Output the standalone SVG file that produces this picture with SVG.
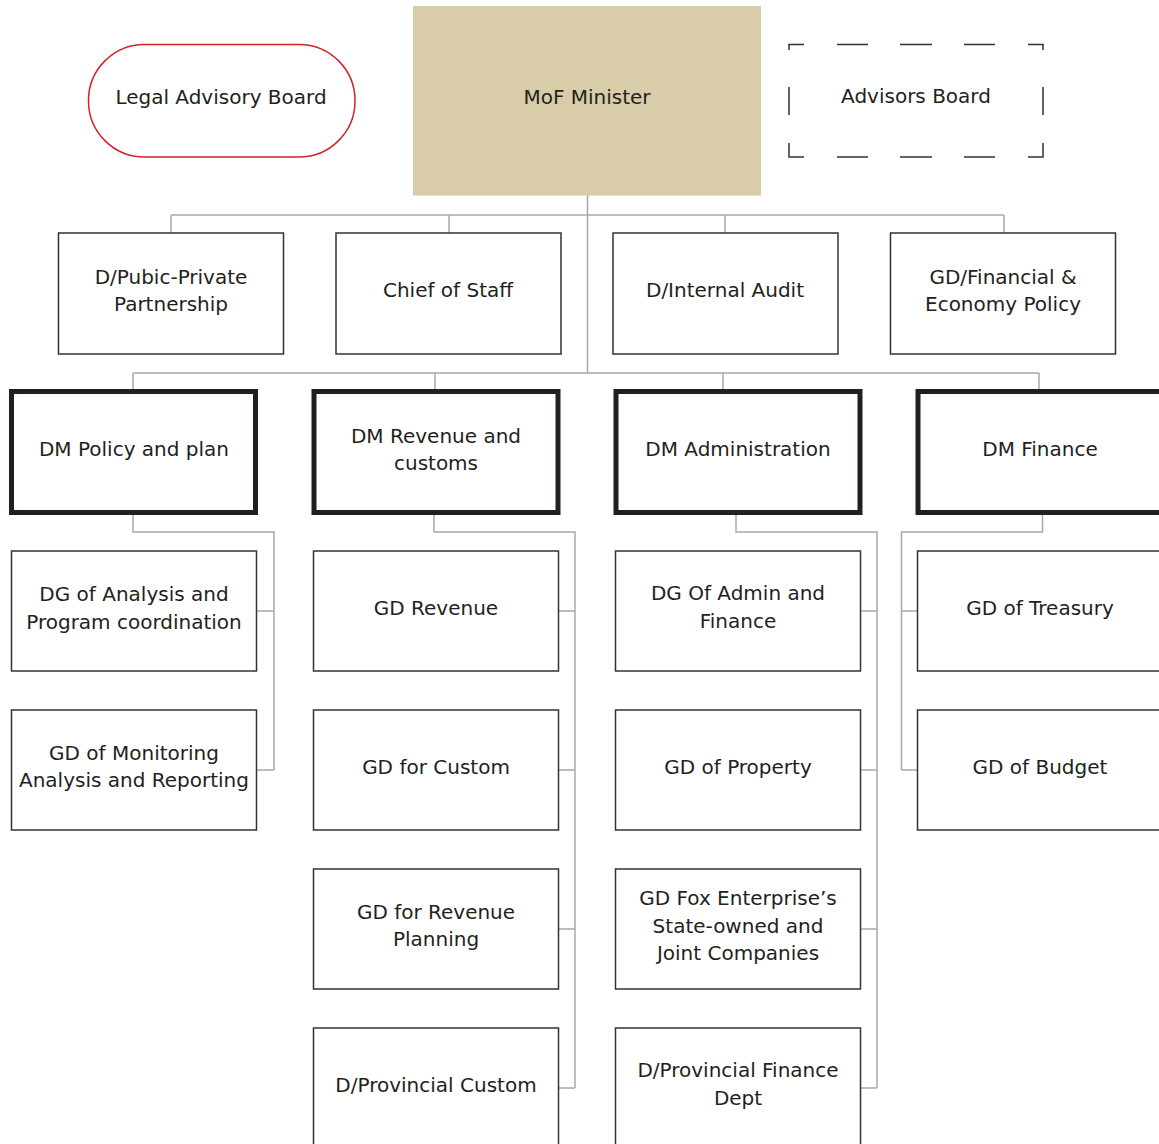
<svg xmlns="http://www.w3.org/2000/svg" width="1159" height="1144" viewBox="0 0 1159 1144">
  <style>
    .bg { fill: #ffffff; }
    .box { fill: #ffffff; stroke: #333333; stroke-width: 1.5; }
    .dm { fill: #ffffff; stroke: #231f20; stroke-width: 5; }
    .minister { fill: #d9cca9; }
    .legal { fill: #ffffff; stroke: #d2232a; stroke-width: 1.5; }
    .dash { fill: none; stroke: #333333; stroke-width: 1.5; }
    .link { fill: none; stroke: #a7a9ac; stroke-width: 1.5; }
    text { font-family: "DejaVu Sans", "Liberation Sans", sans-serif; font-size: 20px; fill: #231f20; text-anchor: middle; }
  </style>
  <rect class="bg" x="0" y="0" width="1159" height="1144"/>

  <!-- connectors -->
  <g id="connectors">
    <!-- minister to first tier -->
    <path class="link" d="M587.5 195 V373 M171 215 H1004 M171 215 V233 M449 215 V233 M725 215 V233 M1004 215 V233"/>
    <!-- minister to deputy ministers -->
    <path class="link" d="M133 373 H1039 M133 373 V391 M435 373 V391 M723 373 V391 M1039 373 V391"/>
    <!-- DM Policy and plan -->
    <path class="link" d="M133 513 V532 H274 V770 M256.5 611 H274 M256.5 770 H274"/>
    <!-- DM Revenue and customs -->
    <path class="link" d="M434 513 V532 H575 V1088 M558.5 611 H575 M558.5 770 H575 M558.5 929 H575 M558.5 1088 H575"/>
    <!-- DM Administration -->
    <path class="link" d="M736 513 V532 H877 V1088 M860.5 611 H877 M860.5 770 H877 M860.5 929 H877 M860.5 1088 H877"/>
    <!-- DM Finance -->
    <path class="link" d="M1042.5 513 V532 H901.5 V770 M901.5 611 H917.5 M901.5 770 H917.5"/>
  </g>

  <!-- top row -->
  <g id="legal-advisory-board">
    <rect class="legal" x="88.5" y="44.5" width="266.5" height="112.5" rx="56" ry="56"/>
    <text x="221" y="104">Legal Advisory Board</text>
  </g>
  <g id="mof-minister">
    <rect class="minister" x="413" y="6" width="348" height="189.5"/>
    <text x="587" y="104">MoF Minister</text>
  </g>
  <g id="advisors-board">
    <path class="dash" d="M789 50 V44.5 H804 M837 44.5 H868 M900 44.5 H932 M964 44.5 H995 M1028 44.5 H1043 V50
                          M789 87 V115 M1043 87 V115
                          M789 143 V157 H804 M837 157 H868 M900 157 H932 M964 157 H995 M1028 157 H1043 V143"/>
    <text x="916" y="103">Advisors Board</text>
  </g>

  <!-- first tier -->
  <g id="d-public-private-partnership">
    <rect class="box" x="58.5" y="233" width="225" height="121"/>
    <text x="171" y="284">D/Pubic-Private</text>
    <text x="171" y="311">Partnership</text>
  </g>
  <g id="chief-of-staff">
    <rect class="box" x="336" y="233" width="225" height="121"/>
    <text x="448" y="297">Chief of Staff</text>
  </g>
  <g id="d-internal-audit">
    <rect class="box" x="613" y="233" width="225" height="121"/>
    <text x="725" y="297">D/Internal Audit</text>
  </g>
  <g id="gd-financial-economy-policy">
    <rect class="box" x="890.5" y="233" width="225" height="121"/>
    <text x="1003" y="284">GD/Financial &amp;</text>
    <text x="1003" y="311">Economy Policy</text>
  </g>

  <!-- deputy ministers -->
  <g id="dm-policy-and-plan">
    <rect class="dm" x="11.5" y="391.5" width="244" height="121"/>
    <text x="134" y="456">DM Policy and plan</text>
  </g>
  <g id="dm-revenue-and-customs">
    <rect class="dm" x="314" y="391.5" width="244" height="121"/>
    <text x="436" y="443">DM Revenue and</text>
    <text x="436" y="470">customs</text>
  </g>
  <g id="dm-administration">
    <rect class="dm" x="616" y="391.5" width="244" height="121"/>
    <text x="738" y="456">DM Administration</text>
  </g>
  <g id="dm-finance">
    <rect class="dm" x="918" y="391.5" width="260" height="121"/>
    <text x="1040" y="456">DM Finance</text>
  </g>

  <!-- policy and plan branch -->
  <g id="dg-analysis-program-coordination">
    <rect class="box" x="11.5" y="551" width="245" height="120"/>
    <text x="134" y="601">DG of Analysis and</text>
    <text x="134" y="629">Program coordination</text>
  </g>
  <g id="gd-monitoring-analysis-reporting">
    <rect class="box" x="11.5" y="710" width="245" height="120"/>
    <text x="134" y="760">GD of Monitoring</text>
    <text x="134" y="787">Analysis and Reporting</text>
  </g>

  <!-- revenue and customs branch -->
  <g id="gd-revenue">
    <rect class="box" x="313.5" y="551" width="245" height="120"/>
    <text x="436" y="615">GD Revenue</text>
  </g>
  <g id="gd-for-custom">
    <rect class="box" x="313.5" y="710" width="245" height="120"/>
    <text x="436" y="774">GD for Custom</text>
  </g>
  <g id="gd-revenue-planning">
    <rect class="box" x="313.5" y="869" width="245" height="120"/>
    <text x="436" y="919">GD for Revenue</text>
    <text x="436" y="946">Planning</text>
  </g>
  <g id="d-provincial-custom">
    <rect class="box" x="313.5" y="1028" width="245" height="130"/>
    <text x="436" y="1092">D/Provincial Custom</text>
  </g>

  <!-- administration branch -->
  <g id="dg-admin-and-finance">
    <rect class="box" x="615.5" y="551" width="245" height="120"/>
    <text x="738" y="600">DG Of Admin and</text>
    <text x="738" y="628">Finance</text>
  </g>
  <g id="gd-property">
    <rect class="box" x="615.5" y="710" width="245" height="120"/>
    <text x="738" y="774">GD of Property</text>
  </g>
  <g id="gd-state-owned-enterprises">
    <rect class="box" x="615.5" y="869" width="245" height="120"/>
    <text x="738" y="905">GD Fox Enterprise’s</text>
    <text x="738" y="933">State-owned and</text>
    <text x="738" y="960">Joint Companies</text>
  </g>
  <g id="d-provincial-finance-dept">
    <rect class="box" x="615.5" y="1028" width="245" height="130"/>
    <text x="738" y="1077">D/Provincial Finance</text>
    <text x="738" y="1105">Dept</text>
  </g>

  <!-- finance branch -->
  <g id="gd-treasury">
    <rect class="box" x="917.5" y="551" width="260" height="120"/>
    <text x="1040" y="615">GD of Treasury</text>
  </g>
  <g id="gd-budget">
    <rect class="box" x="917.5" y="710" width="260" height="120"/>
    <text x="1040" y="774">GD of Budget</text>
  </g>
</svg>
